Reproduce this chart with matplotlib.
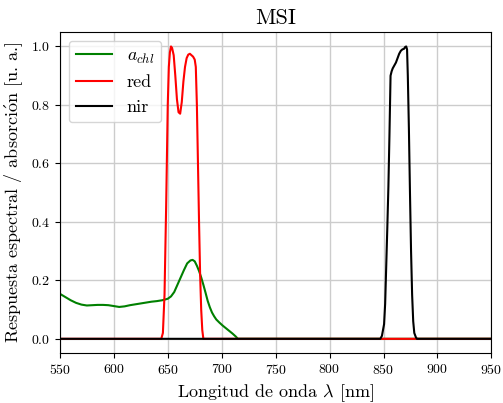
import matplotlib
matplotlib.use("Agg")
import matplotlib.pyplot as plt

plt.rcParams['font.family'] = 'serif'
plt.rcParams['font.serif'] = ['cmr10']
plt.rcParams['mathtext.fontset'] = 'cm'
plt.rcParams['axes.formatter.use_mathtext'] = True

# absorción de clorofila
green_x = [550, 555, 560, 565, 570, 575, 580, 585, 590, 595, 600, 605, 610, 615, 620,
           625, 630, 635, 640, 645, 650, 653, 656, 659, 662, 665, 668, 671, 673, 675,
           677, 679, 681, 683, 685, 687, 689, 691, 693, 695, 698, 701, 704, 707, 710,
           713, 715, 950]
green_y = [0.154, 0.143, 0.132, 0.123, 0.117, 0.114, 0.115, 0.116, 0.116, 0.115, 0.112,
           0.109, 0.111, 0.115, 0.118, 0.121, 0.124, 0.127, 0.129, 0.132, 0.137, 0.145,
           0.16, 0.185, 0.21, 0.235, 0.258, 0.268, 0.27, 0.265, 0.25, 0.232, 0.21, 0.185,
           0.158, 0.13, 0.108, 0.09, 0.077, 0.066, 0.055, 0.045, 0.036, 0.027, 0.018,
           0.008, 0.0, 0.0]

# banda roja
red_x = [550, 644, 645.5, 647, 648.5, 650, 651, 652, 653, 654, 655.5, 657, 658.5, 660,
         661.5, 663, 664.5, 666, 667.5, 669, 670.5, 672, 673.5, 675, 676, 677, 678, 679,
         680, 681, 682, 683, 950]
red_y = [0, 0, 0.02, 0.15, 0.45, 0.8, 0.93, 0.98, 1.0, 0.995, 0.97, 0.9, 0.82, 0.775,
         0.77, 0.81, 0.88, 0.93, 0.96, 0.972, 0.975, 0.97, 0.965, 0.955, 0.93, 0.8, 0.6,
         0.4, 0.22, 0.1, 0.03, 0.0, 0.0]

# banda infrarroja cercana
nir_x = [550, 847, 848.5, 849.5, 850.5, 851.5, 852.5, 853.5, 854.5, 855.5, 856.5, 857.5,
         858.5, 860, 861.5, 863, 864.5, 866, 867.5, 869, 870, 871, 871.8, 872.5, 873.5,
         874.5, 875.5, 876.5, 877.5, 878.5, 880, 881, 950]
nir_y = [0, 0, 0.01, 0.03, 0.05, 0.12, 0.25, 0.38, 0.52, 0.7, 0.9, 0.915, 0.925, 0.935,
         0.945, 0.96, 0.975, 0.985, 0.99, 0.992, 0.998, 1.0, 0.99, 0.9, 0.72, 0.5, 0.3,
         0.15, 0.06, 0.02, 0.005, 0, 0]

fig = plt.figure(figsize=(5.03, 4.03), dpi=100)
ax = fig.add_axes([0.119, 0.123, 0.858, 0.798])

ax.plot(green_x, green_y, color='green', lw=1.5, label=r'$a_{chl}$')
ax.plot(red_x, red_y, color='red', lw=1.5, label='red')
ax.plot(nir_x, nir_y, color='black', lw=1.5, label='nir')

ax.set_xlim(550, 950)
ax.set_ylim(-0.05, 1.05)
ax.grid(True, color='#cccccc', lw=1.0)
ax.tick_params(labelsize=10)

ax.set_title('MSI', fontsize=16)
ax.set_xlabel(r'Longitud de onda $\lambda$ [nm]', fontsize=13)
ax.set_ylabel(r'Respuesta espectral / absorci$\mathrm{\acute{o}}$n [u. a.]', fontsize=13)
ax.legend(loc='upper left', fontsize=13)

fig.savefig('out.png', dpi=100)
